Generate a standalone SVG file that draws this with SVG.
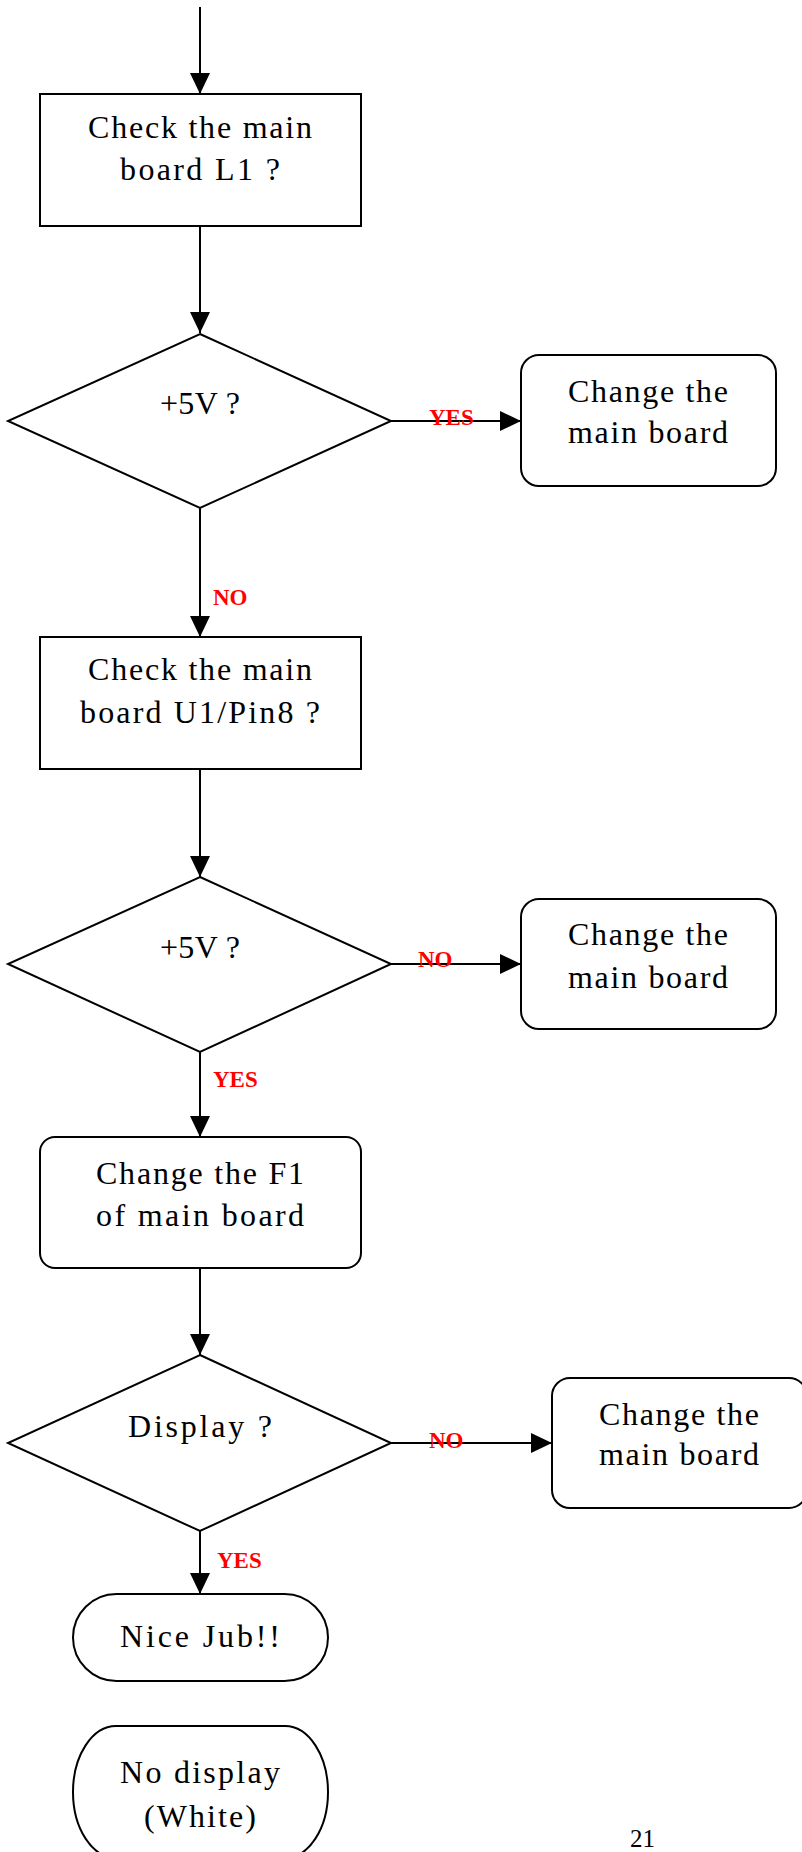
<svg xmlns="http://www.w3.org/2000/svg" width="802" height="1852" viewBox="0 0 802 1852">
<style>
.shape{fill:#fff;stroke:#000;stroke-width:2}
.t{font-family:"Liberation Serif","Times New Roman",serif;font-size:32px;fill:#000;text-anchor:middle}
.lbl{font-family:"Liberation Serif","Times New Roman",serif;font-size:23px;font-weight:bold;fill:#f00}
.c{stroke:#000;stroke-width:2;fill:none;marker-end:url(#ah)}
</style>
<defs>
<marker id="ah" markerUnits="userSpaceOnUse" markerWidth="21" markerHeight="20" refX="21" refY="10" orient="auto">
<path d="M0,0 L21,10 L0,20 Z" fill="#000"/>
</marker>
</defs>
<rect width="802" height="1852" fill="#fff"/>
<g id="connectors">
<line class="c" x1="200" y1="7" x2="200" y2="94"/>
<line class="c" x1="200" y1="226" x2="200" y2="333"/>
<line class="c" x1="391" y1="421" x2="521" y2="421"/>
<line class="c" x1="200" y1="508" x2="200" y2="637"/>
<line class="c" x1="200" y1="769" x2="200" y2="877"/>
<line class="c" x1="391" y1="964" x2="521" y2="964"/>
<line class="c" x1="200" y1="1052" x2="200" y2="1137"/>
<line class="c" x1="200" y1="1268" x2="200" y2="1355"/>
<line class="c" x1="391" y1="1443" x2="552" y2="1443"/>
<line class="c" x1="200" y1="1531" x2="200" y2="1594"/>
</g>
<g id="box1">
<rect class="shape" x="40" y="94" width="321" height="132"/>
<text class="t" x="200" y="138" textLength="224" lengthAdjust="spacing">Check the main</text>
<text class="t" x="200" y="180" textLength="160" lengthAdjust="spacing">board L1 ?</text>
</g>
<g id="diamond1">
<polygon class="shape" points="200,334 391,421 200,508 8,421"/>
<text class="t" x="200" y="414" textLength="80" lengthAdjust="spacing">+5V ?</text>
</g>
<g id="change1">
<rect class="shape" x="521" y="355" width="255" height="131" rx="18" ry="18"/>
<text class="t" x="648" y="402" textLength="160" lengthAdjust="spacing">Change the</text>
<text class="t" x="648" y="443" textLength="160" lengthAdjust="spacing">main board</text>
</g>
<g id="box2">
<rect class="shape" x="40" y="637" width="321" height="132"/>
<text class="t" x="200" y="680" textLength="224" lengthAdjust="spacing">Check the main</text>
<text class="t" x="200" y="723" textLength="240" lengthAdjust="spacing">board U1/Pin8 ?</text>
</g>
<g id="diamond2">
<polygon class="shape" points="200,877 391,964 200,1052 8,964"/>
<text class="t" x="200" y="958" textLength="80" lengthAdjust="spacing">+5V ?</text>
</g>
<g id="change2">
<rect class="shape" x="521" y="899" width="255" height="130" rx="18" ry="18"/>
<text class="t" x="648" y="945" textLength="160" lengthAdjust="spacing">Change the</text>
<text class="t" x="648" y="988" textLength="160" lengthAdjust="spacing">main board</text>
</g>
<g id="box3">
<rect class="shape" x="40" y="1137" width="321" height="131" rx="15" ry="15"/>
<text class="t" x="200" y="1184" textLength="208" lengthAdjust="spacing">Change the F1</text>
<text class="t" x="200" y="1226" textLength="208" lengthAdjust="spacing">of main board</text>
</g>
<g id="diamond3">
<polygon class="shape" points="200,1355 391,1443 200,1531 8,1443"/>
<text class="t" x="200" y="1437" textLength="144" lengthAdjust="spacing">Display ?</text>
</g>
<g id="change3">
<rect class="shape" x="552" y="1378" width="255" height="130" rx="18" ry="18"/>
<text class="t" x="679" y="1425" textLength="160" lengthAdjust="spacing">Change the</text>
<text class="t" x="679" y="1465" textLength="160" lengthAdjust="spacing">main board</text>
</g>
<g id="nice">
<rect class="shape" x="73" y="1594" width="255" height="87" rx="43.5" ry="43.5"/>
<text class="t" x="200" y="1647" textLength="160" lengthAdjust="spacing">Nice Jub!!</text>
</g>
<g id="nodisplay">
<rect class="shape" x="73" y="1726" width="255" height="132" rx="43" ry="66"/>
<text class="t" x="200" y="1783" textLength="160" lengthAdjust="spacing">No display</text>
<text class="t" x="200" y="1827" textLength="112" lengthAdjust="spacing">(White)</text>
</g>
<g id="labels">
<text class="lbl" x="429" y="425">YES</text>
<text class="lbl" x="213" y="605">NO</text>
<text class="lbl" x="418" y="967">NO</text>
<text class="lbl" x="213" y="1087">YES</text>
<text class="lbl" x="429" y="1448">NO</text>
<text class="lbl" x="217" y="1568">YES</text>
</g>
<text x="630" y="1847" font-family="Liberation Serif, serif" font-size="25" fill="#000">21</text>
</svg>
